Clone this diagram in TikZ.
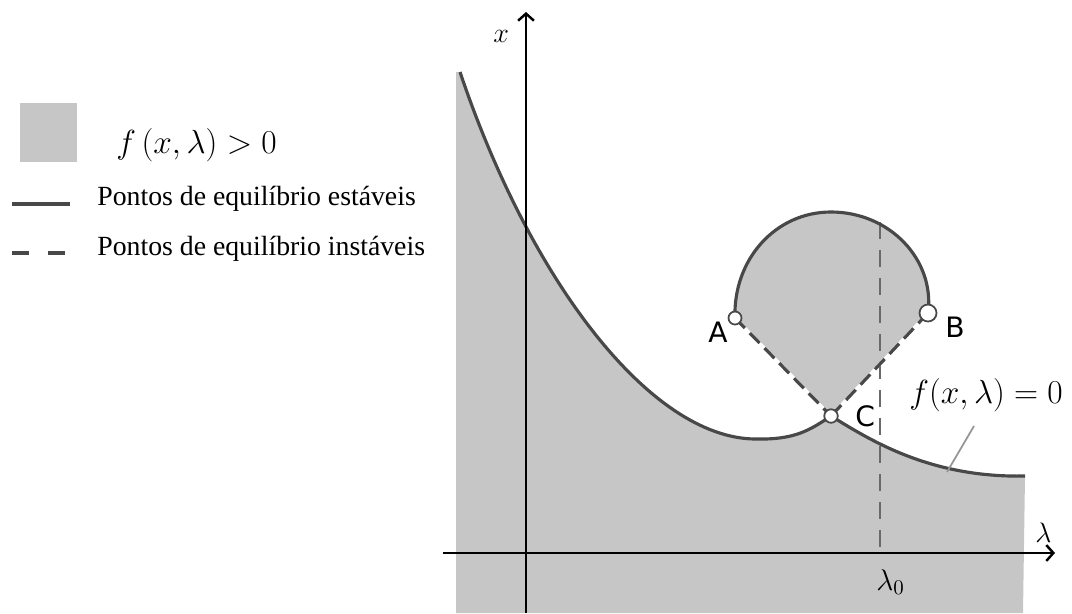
\RequirePackage{fix-cm}
\documentclass[tikz,border=0pt]{standalone}
\usepackage{fontspec}
\setmainfont{Liberation Serif}
\newfontfamily\ptfont{DejaVu Sans}
\definecolor{regiongray}{RGB}{198,198,198}
\definecolor{curvegray}{RGB}{72,72,72}
\definecolor{leadgray}{RGB}{150,150,150}
\usetikzlibrary{arrows.meta}

\begin{document}
\begin{tikzpicture}[x=0.02cm, y=-0.02cm,
  axis/.style={line width=1.6pt, black, -{Straight Barb[length=4pt, width=9pt, line width=1.4pt]}},
  branch/.style={line width=1.8pt, curvegray},
  unstable/.style={line width=1.8pt, curvegray, dash pattern=on 8pt off 4pt},
  eqpt/.style={circle, draw=curvegray, fill=white, line width=1pt, inner sep=0pt, minimum size=0.26cm},
  ptlabel/.style={font=\ptfont\fontsize{16}{18}\selectfont, inner sep=0pt, anchor=base west},
  mathlabel/.style={font=\fontsize{16}{19}\selectfont, inner sep=0pt, anchor=base west},
  legtext/.style={font=\fontsize{15.8}{19}\selectfont, inner sep=0pt, anchor=base west}
]
  \useasboundingbox (0,0) rectangle (1072,613);

  \coordinate (A) at (735,318);
  \coordinate (B) at (928,313);
  \coordinate (C) at (831,416);

  % region f > 0
  \fill[regiongray] (456,613) -- (456,72) -- (460,72)
    .. controls (530,280) and (650,438) .. (755,439)
    .. controls (795,440) and (810,430) .. (C)
    .. controls (870,440) and (930,478) .. (1025,476) -- (1023,613) -- cycle;
  \fill[regiongray] (A) .. controls (733,260) and (775,212) .. (831,212)
    .. controls (890,212) and (935,260) .. (B) -- (C) -- cycle;

  % lambda_0
  \coordinate (top0) at (880,222);
  \coordinate (base0) at (880,553);
  \draw[leadgray!70!black, line width=0.6pt, dash pattern=on 0.34cm off 0.22cm] (top0) -- (base0);
  \node[mathlabel, font=\fontsize{17}{20}\selectfont] (lam0) at (876,590) {$\lambda_0$};

  % branches
  \draw[branch] (460,72) .. controls (530,280) and (650,438) .. (755,439)
    .. controls (795,440) and (810,430) .. (C);
  \draw[branch] (C) .. controls (870,440) and (930,478) .. (1025,476);
  \draw[branch] (A) .. controls (733,260) and (775,212) .. (831,212)
    .. controls (890,212) and (935,260) .. (B);
  \draw[white, line width=1.8pt] (A) -- (C) -- (B);
  \draw[unstable] (A) -- (C);
  \draw[unstable] (B) -- (C);

  % axes
  \coordinate (xo) at (443,553);
  \coordinate (xe) at (1055,553);
  \coordinate (yo) at (526,613);
  \coordinate (ye) at (526,12);
  \draw[axis] (xo) -- (xe);
  \draw[axis] (yo) -- (ye);
  \node[mathlabel] (xlab) at (493,42) {$x$};
  \node[mathlabel] (lamlab) at (1035,542) {$\lambda$};

  % points
  \node[eqpt] (pA) at (A) {};
  \node[eqpt, minimum size=0.34cm] (pB) at (B) {};
  \node[eqpt, minimum size=0.27cm] (pC) at (C) {};
  \node[ptlabel] (labA) at (708,342) {A};
  \node[ptlabel] (labB) at (945,337) {B};
  \node[ptlabel] (labC) at (855,426) {C};

  % f = 0
  \node[mathlabel, font=\fontsize{19}{23}\selectfont] (eq0) at (909,403) {$f(x,\lambda)=0$};
  \coordinate (lead) at (947,472);
  \coordinate (leadtop) at (974,426);
  \draw[leadgray, line width=1pt] (lead) -- (leadtop);

  % legend
  \node[fill=regiongray, inner sep=0pt, minimum width=1.14cm, minimum height=1.18cm] (legbox) at (48.5,132.5) {};
  \node[mathlabel, font=\fontsize{19}{23}\selectfont] (legf) at (116,153) {$f\,(x,\lambda)>0$};
  \coordinate (s1) at (12,204);
  \coordinate (s2) at (70,204);
  \draw[branch] (s1) -- (s2);
  \node[legtext] (legs) at (97,205) {Pontos de equilíbrio estáveis};
  \coordinate (u1) at (12,253);
  \coordinate (u2) at (66,253);
  \draw[branch, dash pattern=on 0.34cm off 0.38cm] (u1) -- (u2);
  \node[legtext] (legu) at (97,255) {Pontos de equilíbrio instáveis};
\end{tikzpicture}
\end{document}
